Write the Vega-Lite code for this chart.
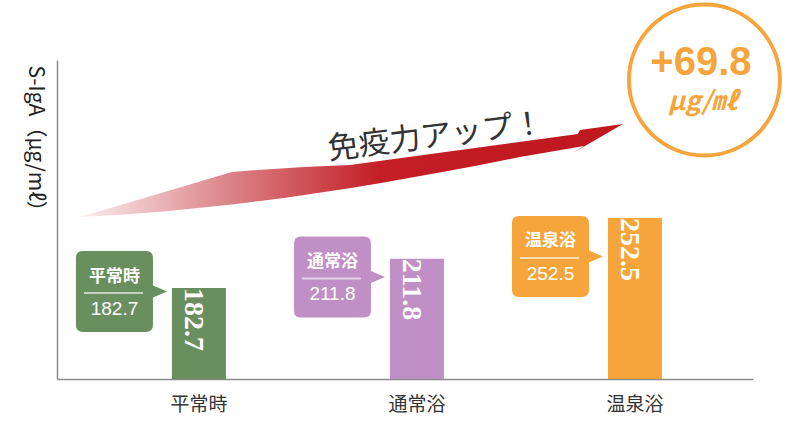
{
  "$schema": "https://vega.github.io/schema/vega-lite/v6.json",
  "width": 696,
  "height": 319,
  "autosize": {"type": "none"},
  "padding": {"left": 57, "top": 60, "right": 37, "bottom": 42},
  "background": "white",
  "config": {
    "view": {"stroke": null},
    "axis": {"domainColor": "#8a8a8a", "domainWidth": 1.5, "grid": false}
  },
  "data": {
    "values": [
      {"category": "平常時", "value": 182.7},
      {"category": "通常浴", "value": 211.8},
      {"category": "温泉浴", "value": 252.5}
    ]
  },
  "encoding": {
    "x": {
      "field": "category",
      "type": "nominal",
      "sort": ["平常時", "通常浴", "温泉浴"],
      "scale": {"domain": ["平常時", "通常浴", "温泉浴"], "paddingInner": 0.7523, "paddingOuter": 0.4725, "align": 0.558},
      "axis": {"title": null, "ticks": false, "tickSize": 0, "labelPadding": 16, "labelFontSize": 19, "labelFont": "Noto Sans CJK JP", "labelColor": "#333333", "labelAngle": 0}
    }
  },
  "resolve": {"scale": {"y": "independent"}},
  "layer": [
    {
      "mark": {"type": "bar"},
      "encoding": {
        "y": {
          "field": "value", "type": "quantitative",
          "scale": {"domain": [92, 410], "nice": false, "zero": false},
          "axis": {
            "title": "S-IgA（μg/mℓ）", "labels": false, "ticks": false, "tickSize": 0,
            "titleAngle": 90, "titleAlign": "left", "titleBaseline": "middle",
            "titleX": -23, "titleY": 5, "titleFont": "Noto Sans CJK JP",
            "titleFontSize": 21, "titleFontWeight": "normal", "titleColor": "#222222"
          }
        },
        "y2": {"datum": 92},
        "color": {
          "field": "category", "type": "nominal",
          "scale": {"domain": ["平常時", "通常浴", "温泉浴"], "range": ["#6a8f5e", "#c08fc6", "#f6a53c"]},
          "legend": null
        }
      }
    },
    {
      "mark": {"type": "text", "angle": 90, "align": "left", "baseline": "middle", "dy": 6, "font": "Liberation Sans Narrow", "fontWeight": "bold", "fontSize": 28, "fill": "white"},
      "encoding": {
        "y": {"field": "value", "type": "quantitative", "scale": {"domain": [92, 410], "nice": false, "zero": false}, "axis": null},
        "text": {"field": "value", "type": "quantitative", "format": ".1f"}
      }
    },
    {
      "mark": {"type": "point", "shape": "M -0.7875 -1.0125 L 0.7875 -1.0125 Q 0.9625 -1.0125 0.9625 -0.8375 L 0.9625 -0.15 L 1.3125 0 L 0.9625 0.15 L 0.9625 0.8375 Q 0.9625 1.0125 0.7875 1.0125 L -0.7875 1.0125 Q -0.9625 1.0125 -0.9625 0.8375 L -0.9625 -0.8375 Q -0.9625 -1.0125 -0.7875 -1.0125 Z", "size": 6400, "filled": true, "opacity": 1, "strokeWidth": 0, "xOffset": -84.5, "yOffset": -42},
      "encoding": {
        "y": {"field": "value", "type": "quantitative", "scale": {"domain": [92, 728], "nice": false, "zero": false}, "axis": null},
        "color": {
          "field": "category", "type": "nominal",
          "scale": {"domain": ["平常時", "通常浴", "温泉浴"], "range": ["#6a8f5e", "#c08fc6", "#f6a53c"]},
          "legend": null
        }
      }
    },
    {
      "mark": {"type": "text", "font": "Noto Sans CJK JP", "fontWeight": "bold", "fontSize": 17, "fill": "white", "align": "center", "baseline": "middle", "xOffset": -84.5, "yOffset": -57},
      "encoding": {
        "y": {"field": "value", "type": "quantitative", "scale": {"domain": [92, 728], "nice": false, "zero": false}, "axis": null},
        "text": {"field": "category", "type": "nominal"}
      }
    },
    {
      "mark": {"type": "point", "shape": "M -1 0 L 1 0", "size": 3481, "filled": false, "stroke": "white", "strokeWidth": 2, "strokeOpacity": 0.6, "opacity": 1, "xOffset": -85.5, "yOffset": -40.5},
      "encoding": {
        "y": {"field": "value", "type": "quantitative", "scale": {"domain": [92, 728], "nice": false, "zero": false}, "axis": null}
      }
    },
    {
      "mark": {"type": "text", "font": "Liberation Sans", "fontSize": 19, "fill": "white", "align": "center", "baseline": "middle", "xOffset": -84.5, "yOffset": -24.5},
      "encoding": {
        "y": {"field": "value", "type": "quantitative", "scale": {"domain": [92, 728], "nice": false, "zero": false}, "axis": null},
        "text": {"field": "value", "type": "quantitative", "format": ".1f"}
      }
    },
    {
      "data": {"values": [{"note": "免疫力アップ！"}]},
      "mark": {
        "type": "point",
        "shape": "M -3.37 0.467 L -1.85 0.017 Q -1.27 -0.033 -0.67 -0.053 L 1.61 -0.363 L 1.63 -0.403 L 2.06 -0.463 L 1.56 -0.173 L 1.67 -0.243 L 1.03 -0.133 C -0.47 0.167 -1.87 0.397 -3.37 0.467 Z",
        "size": 40000, "filled": true, "opacity": 1, "strokeWidth": 0,
        "fill": {"gradient": "linear", "x1": 0, "y1": 0, "x2": 1, "y2": 0, "stops": [
          {"offset": 0, "color": "#fbeeee"},
          {"offset": 0.28, "color": "#da8186"},
          {"offset": 0.55, "color": "#c41f26"},
          {"offset": 1, "color": "#be171d"}
        ]}
      },
      "encoding": {
        "x": {"datum": "通常浴"},
        "y": {"datum": 300, "type": "quantitative", "scale": {"domain": [92, 410], "nice": false, "zero": false}, "axis": null}
      }
    },
    {
      "data": {"values": [{"note": "免疫力アップ！"}]},
      "mark": {"type": "text", "font": "Noto Sans CJK JP", "fontSize": 31, "fill": "#333333", "angle": -7, "align": "center", "baseline": "middle", "xOffset": 19},
      "encoding": {
        "x": {"datum": "通常浴"},
        "y": {"datum": 333, "type": "quantitative", "scale": {"domain": [92, 410], "nice": false, "zero": false}, "axis": null},
        "text": {"field": "note", "type": "nominal"}
      }
    },
    {
      "data": {"values": [{"diff": "+69.8", "unit": "μg/㎖"}]},
      "mark": {"type": "point", "shape": "circle", "size": 22800, "filled": false, "fill": "white", "fillOpacity": 1, "stroke": "#f6a53c", "strokeWidth": 4, "opacity": 1, "xOffset": 69.5},
      "encoding": {
        "x": {"datum": "温泉浴"},
        "y": {"datum": 390, "type": "quantitative", "scale": {"domain": [92, 410], "nice": false, "zero": false}, "axis": null}
      }
    },
    {
      "data": {"values": [{"diff": "+69.8", "unit": "μg/㎖"}]},
      "mark": {"type": "text", "font": "Liberation Sans", "fontWeight": "bold", "fontSize": 40, "fill": "#f6a53c", "align": "center", "baseline": "middle", "xOffset": 66, "yOffset": -17},
      "encoding": {
        "x": {"datum": "温泉浴"},
        "y": {"datum": 390, "type": "quantitative", "scale": {"domain": [92, 410], "nice": false, "zero": false}, "axis": null},
        "text": {"field": "diff", "type": "nominal"}
      }
    },
    {
      "data": {"values": [{"diff": "+69.8", "unit": "μg/㎖"}]},
      "mark": {"type": "text", "font": "Noto Sans CJK JP", "fontWeight": "bold", "fontStyle": "italic", "fontSize": 26, "fill": "#f6a53c", "align": "center", "baseline": "middle", "xOffset": 68, "yOffset": 22},
      "encoding": {
        "x": {"datum": "温泉浴"},
        "y": {"datum": 390, "type": "quantitative", "scale": {"domain": [92, 410], "nice": false, "zero": false}, "axis": null},
        "text": {"field": "unit", "type": "nominal"}
      }
    }
  ]
}
